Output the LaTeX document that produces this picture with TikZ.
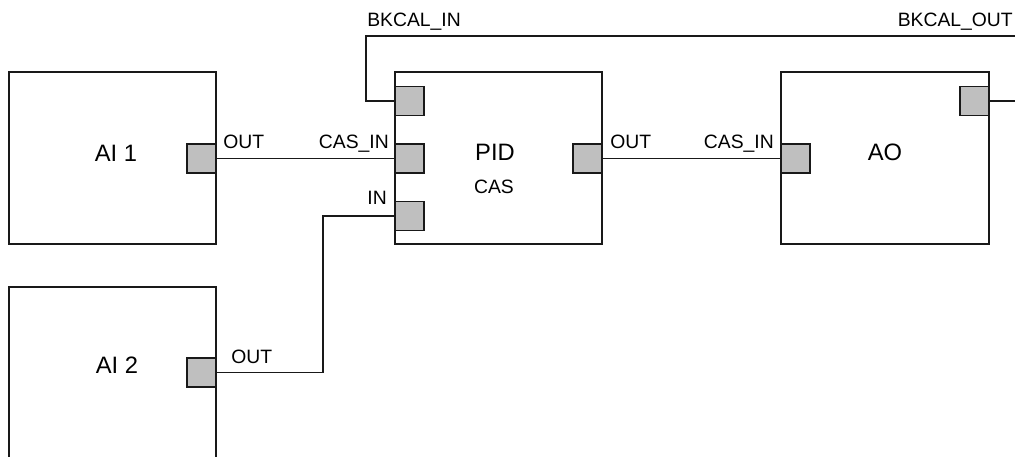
\documentclass[tikz,border=0pt]{standalone}
\usepackage{fontspec}
\setmainfont{Liberation Sans}
\begin{document}
\begin{tikzpicture}[x=0.75pt,y=-0.75pt,
  block/.style={draw=black!90,line width=1.1pt,fill=white,minimum width=155.25pt,minimum height=129pt,inner sep=0pt},
  port/.style={draw=black!90,line width=1.1pt,fill=black!25,minimum width=21.75pt,minimum height=21.5pt,inner sep=0pt},
  wire/.style={draw=black!90,line width=0.9pt},
  lbl/.style={inner sep=0pt,font=\fontsize{14.5pt}{16pt}\selectfont},
  big/.style={inner sep=0pt,font=\fontsize{17.8pt}{20pt}\selectfont}]
\useasboundingbox (0,0) rectangle (1015,457);
\clip (0,0) rectangle (1015,457);
% blocks
\node[block] (ai1) at (112.5,158) {};
\node[block] (ai2) at (112.5,373) {};
\node[block] (pid) at (498.5,158) {};
\node[block,minimum width=156pt] (ao) at (885,158) {};
% ports
\node[port] (ai1out) at (201.5,158.5) {};
\node[port] (ai2out) at (201.5,372.5) {};
\node[port] (pidbk) at (409.5,101) {};
\node[port] (pidcas) at (409.5,158.5) {};
\node[port] (pidin) at (409.5,216) {};
\node[port] (pidout) at (587.5,158.5) {};
\node[port] (aocas) at (795.5,158.5) {};
\node[port] (aobk) at (974.5,101) {};
% connectors
\coordinate (inx) at (323,300);
\coordinate (bkl) at (366,36);
\coordinate (bkr) at (1030,36);
\draw[wire] (ai1out.east) -- (pidcas.west);
\draw[wire] (pidout.east) -- (aocas.west);
\draw[wire] (ai2out.east) -| (inx) |- (pidin.west);
\draw[wire] (aobk.east) -| (bkr) -- (bkl) |- (pidbk.west);
% block texts
\node[big,anchor=base] (tai1) at (116,161) {AI 1};
\node[big,anchor=base] (tai2) at (117,373) {AI 2};
\node[big,anchor=base] (tpid) at (495,160) {PID};
\node[lbl,anchor=base] (tcas) at (494,193) {CAS};
\node[big,anchor=base] (tao) at (885,160) {AO};
% port labels
\node[lbl,anchor=base west] (l1) at (223,148) {OUT};
\node[lbl,anchor=base east] (l2) at (389,148) {CAS\_IN};
\node[lbl,anchor=base east] (l3) at (387,204) {IN};
\node[lbl,anchor=base west] (l4) at (231,363) {OUT};
\node[lbl,anchor=base west] (l5) at (610,148) {OUT};
\node[lbl,anchor=base east] (l6) at (774,148) {CAS\_IN};
\node[lbl,anchor=base west] (l7) at (367,26) {BKCAL\_IN};
\node[lbl,anchor=base east] (l8) at (1013,26) {BKCAL\_OUT};
\end{tikzpicture}
\end{document}
